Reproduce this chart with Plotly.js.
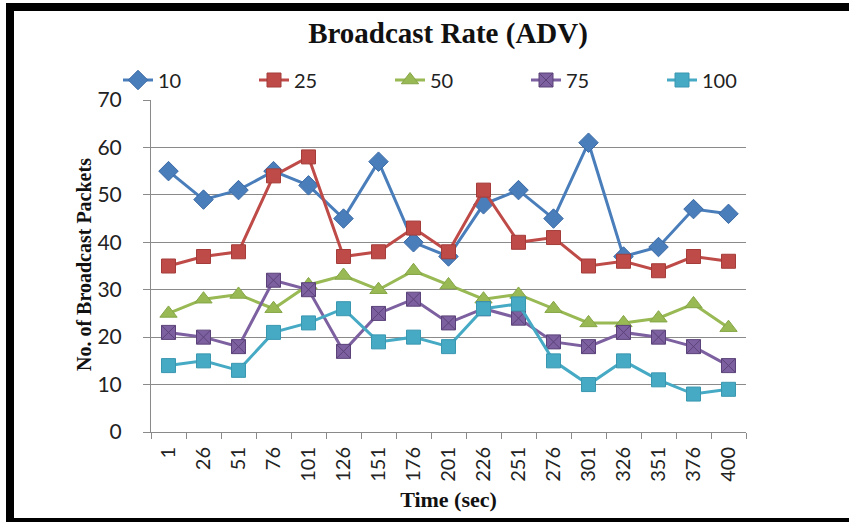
<!DOCTYPE html>
<html>
<head>
<meta charset="utf-8">
<script src="https://cdn.plot.ly/plotly-3.0.1.min.js"></script>
<style>
  html, body { margin: 0; padding: 0; background: #ffffff; overflow: hidden; }
  #wrap { position: relative; width: 849px; height: 522px; overflow: hidden; }
  #chart { position: absolute; left: 0; top: 0; width: 849px; height: 522px; }
  /* heavy black frame around the chart area */
  #frame {
    position: absolute; left: 6px; top: 3px; width: 900px; height: 523px;
    box-sizing: border-box; border-left: 8px solid #000; border-top: 8px solid #000;
    border-bottom: 8px solid #000; pointer-events: none;
  }
</style>
</head>
<body>
<div id="wrap">
  <div id="chart"></div>
  <div id="frame"></div>
</div>
<script>
// Simulation time stamps (seconds)
const timeLabels = ["1", "26", "51", "76", "101", "126", "151", "176", "201",
                    "226", "251", "276", "301", "326", "351", "376", "400"];

// Broadcast packets per node density
const nodes10  = [55, 49, 51, 55, 52, 45, 57, 40, 37, 48, 51, 45, 61, 37, 39, 47, 46];
const nodes25  = [35, 37, 38, 54, 58, 37, 38, 43, 38, 51, 40, 41, 35, 36, 34, 37, 36];
const nodes50  = [25, 28, 29, 26, 31, 33, 30, 34, 31, 28, 29, 26, 23, 23, 24, 27, 22];
const nodes75  = [21, 20, 18, 32, 30, 17, 25, 28, 23, 26, 24, 19, 18, 21, 20, 18, 14];
const nodes100 = [14, 15, 13, 21, 23, 26, 19, 20, 18, 26, 27, 15, 10, 15, 11,  8,  9];

const seriesNames = ["10", "25", "50", "75", "100"];

function series(name, values, color, edge, symbol, size) {
  return {
    type: "scatter",
    mode: "lines+markers",
    name: name,
    x: timeLabels,
    y: values,
    line: { color: color, width: 3 },
    marker: { symbol: symbol, size: size, color: color, line: { color: edge, width: 1 } }
  };
}

const traces = [
  series(seriesNames[0], nodes10,  "#4a7ebb", "#3a6aa5", "diamond",      15),
  series(seriesNames[1], nodes25,  "#be4b48", "#a43d3a", "square",       14),
  series(seriesNames[2], nodes50,  "#98b954", "#85a646", "triangle-up",  15),
  series(seriesNames[3], nodes75,  "#7d60a0", "#5b4379", "square-x",     14),
  series(seriesNames[4], nodes100, "#46aac5", "#3a97b0", "square",       14)
];

// plot area in pixels: x 151..746, y 100..432
const plotW = 849 - 151 - 103;
const plotH = 522 - 100 - 90;

const layout = {
  width: 849,
  height: 522,
  paper_bgcolor: "#ffffff",
  plot_bgcolor: "#ffffff",
  margin: { l: 151, r: 103, t: 100, b: 90, pad: 0, autoexpand: false },
  showlegend: true,
  title: {
    text: "<b>Broadcast Rate (ADV)</b>",
    font: { family: "Liberation Serif", size: 29, color: "#111111" },
    x: 448 / 849, xanchor: "center", xref: "container",
    y: 1 - 33 / 522, yanchor: "middle", yref: "container"
  },
  legend: {
    orientation: "h",
    xref: "paper", yref: "paper",
    x: (118 - 151) / plotW, xanchor: "left",
    y: (432 - 80) / plotH, yanchor: "middle",
    font: { family: "Lato", size: 20, color: "#222222" },
    entrywidth: 91, entrywidthmode: "pixels",
    itemgap: 0,
    bgcolor: "rgba(0,0,0,0)"
  },
  xaxis: {
    type: "category",
    range: [-0.5, timeLabels.length - 0.5],
    showgrid: false,
    showline: true, linecolor: "#8a8a8a", linewidth: 1,
    ticks: "outside", tickson: "boundaries", ticklen: 6, tickcolor: "#8a8a8a",
    tickangle: -90,
    ticklabelstandoff: 6,
    tickfont: { family: "Lato", size: 20, color: "#222222" },
    title: {
      text: "<b>Time (sec)</b>",
      font: { family: "Liberation Serif", size: 22, color: "#111111" },
      standoff: 10
    },
    automargin: false
  },
  yaxis: {
    range: [0, 70],
    tickmode: "linear", tick0: 0, dtick: 10,
    showgrid: true, gridcolor: "#8a8a8a", gridwidth: 1,
    zeroline: false,
    showline: true, linecolor: "#8a8a8a", linewidth: 1,
    ticks: "outside", ticklen: 7, tickcolor: "#8a8a8a",
    ticklabelstandoff: 17,
    tickfont: { family: "Lato", size: 21, color: "#222222" },
    automargin: false
  },
  annotations: [{
    text: "<b>No. of Broadcast Packets</b>",
    font: { family: "Liberation Serif", size: 20, color: "#111111" },
    textangle: -90,
    xref: "paper", yref: "paper",
    x: (84 - 151) / plotW, xanchor: "center",
    y: (432 - 265) / plotH, yanchor: "middle",
    showarrow: false
  }]
};

Plotly.newPlot("chart", traces, layout, { staticPlot: true, displayModeBar: false });
</script>
</body>
</html>
